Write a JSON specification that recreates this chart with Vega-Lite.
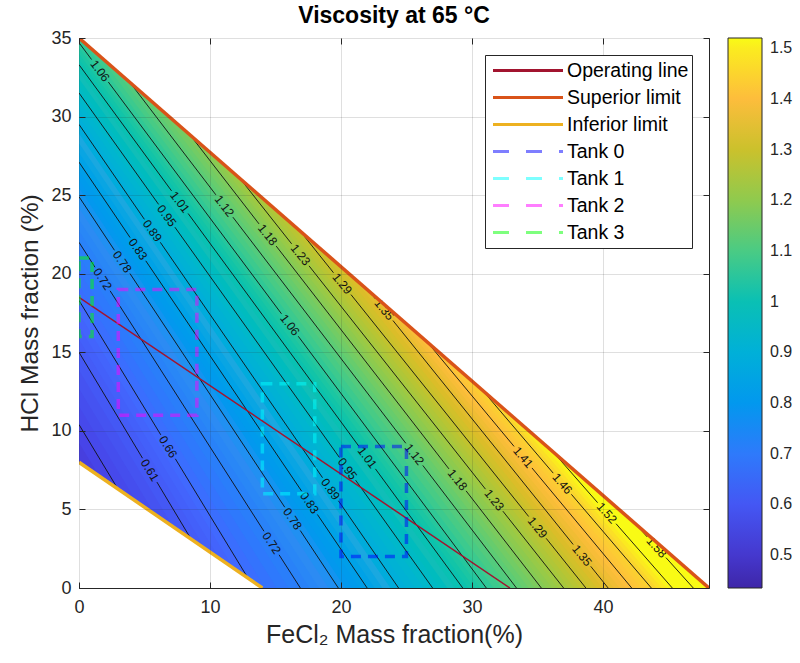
{
"$schema": "https://vega.github.io/schema/vega-lite/v6.json",
"width": 630, "height": 550,
"autosize": {"type": "none"},
"padding": {"left": 79, "top": 38, "right": 91, "bottom": 75},
"background": "white",
"title": {"text": "Viscosity at 65 °C", "font": "Liberation Sans", "fontSize": 23, "fontWeight": "bold", "color": "#000000", "offset": 1},
"config": {
  "font": "Liberation Sans",
  "view": {"stroke": "#262626", "strokeWidth": 1},
  "axis": {"labelFlush": false, "labelOverlap": false, "domain": false, "labelFont": "Liberation Sans", "titleFont": "Liberation Sans", "labelColor": "#262626", "titleColor": "#262626", "titleFontWeight": "normal", "tickColor": "#262626", "tickWidth": 1}
},
"datasets": {
  "bands": [
    {"v":0.47,"x":0,"lo":-100,"hi":5.95},{"v":0.47,"x":48.1,"lo":-100,"hi":-59.85},
    {"v":0.4975,"x":0,"lo":5.8,"hi":7.1},{"v":0.4975,"x":48.1,"lo":-60,"hi":-58.85},
    {"v":0.5125,"x":0,"lo":6.95,"hi":8.25},{"v":0.5125,"x":48.1,"lo":-59,"hi":-57.85},
    {"v":0.5275,"x":0,"lo":8.1,"hi":9.4},{"v":0.5275,"x":48.1,"lo":-58,"hi":-56.85},
    {"v":0.5425,"x":0,"lo":9.25,"hi":10.55},{"v":0.5425,"x":48.1,"lo":-57,"hi":-55.85},
    {"v":0.5575,"x":0,"lo":10.4,"hi":11.7},{"v":0.5575,"x":48.1,"lo":-56,"hi":-54.8},
    {"v":0.5725,"x":0,"lo":11.55,"hi":12.85},{"v":0.5725,"x":48.1,"lo":-54.95,"hi":-53.75},
    {"v":0.5875,"x":0,"lo":12.7,"hi":14.0},{"v":0.5875,"x":48.1,"lo":-53.9,"hi":-52.7},
    {"v":0.6025,"x":0,"lo":13.85,"hi":15.15},{"v":0.6025,"x":48.1,"lo":-52.85,"hi":-51.65},
    {"v":0.6163,"x":0,"lo":15,"hi":15.98},{"v":0.6163,"x":48.1,"lo":-51.8,"hi":-50.6},
    {"v":0.6288,"x":0,"lo":15.83,"hi":16.8},{"v":0.6288,"x":48.1,"lo":-50.75,"hi":-49.55},
    {"v":0.6413,"x":0,"lo":16.65,"hi":17.63},{"v":0.6413,"x":48.1,"lo":-49.7,"hi":-48.5},
    {"v":0.6538,"x":0,"lo":17.48,"hi":18.45},{"v":0.6538,"x":48.1,"lo":-48.65,"hi":-47.45},
    {"v":0.6675,"x":0,"lo":18.3,"hi":19.38},{"v":0.6675,"x":48.1,"lo":-47.6,"hi":-45.7},
    {"v":0.6825,"x":0,"lo":19.23,"hi":20.3},{"v":0.6825,"x":48.1,"lo":-45.85,"hi":-43.95},
    {"v":0.6975,"x":0,"lo":20.15,"hi":21.23},{"v":0.6975,"x":48.1,"lo":-44.1,"hi":-42.2},
    {"v":0.7125,"x":0,"lo":21.08,"hi":22.15},{"v":0.7125,"x":48.1,"lo":-42.35,"hi":-40.45},
    {"v":0.7275,"x":0,"lo":22,"hi":22.88},{"v":0.7275,"x":48.1,"lo":-40.6,"hi":-39.2},
    {"v":0.7425,"x":0,"lo":22.73,"hi":23.6},{"v":0.7425,"x":48.1,"lo":-39.35,"hi":-37.95},
    {"v":0.7575,"x":0,"lo":23.45,"hi":24.33},{"v":0.7575,"x":48.1,"lo":-38.1,"hi":-36.7},
    {"v":0.7725,"x":0,"lo":24.18,"hi":25.05},{"v":0.7725,"x":48.1,"lo":-36.85,"hi":-35.45},
    {"v":0.7863,"x":0,"lo":24.9,"hi":25.6},{"v":0.7863,"x":48.1,"lo":-35.6,"hi":-34.6},
    {"v":0.7988,"x":0,"lo":25.45,"hi":26.15},{"v":0.7988,"x":48.1,"lo":-34.75,"hi":-33.75},
    {"v":0.8113,"x":0,"lo":26,"hi":26.7},{"v":0.8113,"x":48.1,"lo":-33.9,"hi":-32.9},
    {"v":0.8238,"x":0,"lo":26.55,"hi":27.25},{"v":0.8238,"x":48.1,"lo":-33.05,"hi":-32.05},
    {"v":0.8375,"x":0,"lo":27.1,"hi":27.85},{"v":0.8375,"x":48.1,"lo":-32.2,"hi":-31.18},
    {"v":0.8525,"x":0,"lo":27.7,"hi":28.45},{"v":0.8525,"x":48.1,"lo":-31.33,"hi":-30.3},
    {"v":0.8675,"x":0,"lo":28.3,"hi":29.05},{"v":0.8675,"x":48.1,"lo":-30.45,"hi":-29.43},
    {"v":0.8825,"x":0,"lo":28.9,"hi":29.65},{"v":0.8825,"x":48.1,"lo":-29.58,"hi":-28.55},
    {"v":0.8975,"x":0,"lo":29.5,"hi":30.15},{"v":0.8975,"x":48.1,"lo":-28.7,"hi":-27.53},
    {"v":0.9125,"x":0,"lo":30,"hi":30.65},{"v":0.9125,"x":48.1,"lo":-27.68,"hi":-26.5},
    {"v":0.9275,"x":0,"lo":30.5,"hi":31.15},{"v":0.9275,"x":48.1,"lo":-26.65,"hi":-25.48},
    {"v":0.9425,"x":0,"lo":31,"hi":31.65},{"v":0.9425,"x":48.1,"lo":-25.63,"hi":-24.45},
    {"v":0.9575,"x":0,"lo":31.5,"hi":32.1},{"v":0.9575,"x":48.1,"lo":-24.6,"hi":-23.65},
    {"v":0.9725,"x":0,"lo":31.95,"hi":32.55},{"v":0.9725,"x":48.1,"lo":-23.8,"hi":-22.85},
    {"v":0.9875,"x":0,"lo":32.4,"hi":33.0},{"v":0.9875,"x":48.1,"lo":-23,"hi":-22.05},
    {"v":1.0025,"x":0,"lo":32.85,"hi":33.45},{"v":1.0025,"x":48.1,"lo":-22.2,"hi":-21.25},
    {"v":1.0163,"x":0,"lo":33.3,"hi":33.8},{"v":1.0163,"x":48.1,"lo":-21.4,"hi":-20.65},
    {"v":1.0288,"x":0,"lo":33.65,"hi":34.15},{"v":1.0288,"x":48.1,"lo":-20.8,"hi":-20.05},
    {"v":1.0413,"x":0,"lo":34,"hi":34.5},{"v":1.0413,"x":48.1,"lo":-20.2,"hi":-19.45},
    {"v":1.0538,"x":0,"lo":34.35,"hi":34.85},{"v":1.0538,"x":48.1,"lo":-19.6,"hi":-18.85},
    {"v":1.0675,"x":0,"lo":34.7,"hi":35.28},{"v":1.0675,"x":48.1,"lo":-19,"hi":-18.1},
    {"v":1.0825,"x":0,"lo":35.13,"hi":35.71},{"v":1.0825,"x":48.1,"lo":-18.25,"hi":-17.35},
    {"v":1.0975,"x":0,"lo":35.56,"hi":36.13},{"v":1.0975,"x":48.1,"lo":-17.5,"hi":-16.6},
    {"v":1.1125,"x":0,"lo":35.98,"hi":36.56},{"v":1.1125,"x":48.1,"lo":-16.75,"hi":-15.85},
    {"v":1.1275,"x":0,"lo":36.41,"hi":36.95},{"v":1.1275,"x":48.1,"lo":-16,"hi":-15.3},
    {"v":1.1425,"x":0,"lo":36.8,"hi":37.33},{"v":1.1425,"x":48.1,"lo":-15.45,"hi":-14.75},
    {"v":1.1575,"x":0,"lo":37.18,"hi":37.72},{"v":1.1575,"x":48.1,"lo":-14.9,"hi":-14.2},
    {"v":1.1725,"x":0,"lo":37.57,"hi":38.1},{"v":1.1725,"x":48.1,"lo":-14.35,"hi":-13.65},
    {"v":1.1863,"x":0,"lo":37.95,"hi":38.37},{"v":1.1863,"x":48.1,"lo":-13.8,"hi":-13.13},
    {"v":1.1988,"x":0,"lo":38.22,"hi":38.64},{"v":1.1988,"x":48.1,"lo":-13.28,"hi":-12.6},
    {"v":1.2113,"x":0,"lo":38.49,"hi":38.9},{"v":1.2113,"x":48.1,"lo":-12.75,"hi":-12.08},
    {"v":1.2238,"x":0,"lo":38.75,"hi":39.17},{"v":1.2238,"x":48.1,"lo":-12.23,"hi":-11.55},
    {"v":1.2375,"x":0,"lo":39.02,"hi":39.49},{"v":1.2375,"x":48.1,"lo":-11.7,"hi":-11.07},
    {"v":1.2525,"x":0,"lo":39.34,"hi":39.81},{"v":1.2525,"x":48.1,"lo":-11.22,"hi":-10.6},
    {"v":1.2675,"x":0,"lo":39.66,"hi":40.13},{"v":1.2675,"x":48.1,"lo":-10.75,"hi":-10.12},
    {"v":1.2825,"x":0,"lo":39.98,"hi":40.45},{"v":1.2825,"x":48.1,"lo":-10.27,"hi":-9.64},
    {"v":1.2975,"x":0,"lo":40.3,"hi":40.84},{"v":1.2975,"x":48.1,"lo":-9.79,"hi":-9.19},
    {"v":1.3125,"x":0,"lo":40.69,"hi":41.23},{"v":1.3125,"x":48.1,"lo":-9.34,"hi":-8.74},
    {"v":1.3275,"x":0,"lo":41.08,"hi":41.61},{"v":1.3275,"x":48.1,"lo":-8.89,"hi":-8.28},
    {"v":1.3425,"x":0,"lo":41.46,"hi":42.0},{"v":1.3425,"x":48.1,"lo":-8.43,"hi":-7.83},
    {"v":1.3575,"x":0,"lo":41.85,"hi":42.12},{"v":1.3575,"x":48.1,"lo":-7.98,"hi":-7.32},
    {"v":1.3725,"x":0,"lo":41.97,"hi":42.23},{"v":1.3725,"x":48.1,"lo":-7.47,"hi":-6.8},
    {"v":1.3875,"x":0,"lo":42.08,"hi":42.35},{"v":1.3875,"x":48.1,"lo":-6.95,"hi":-6.29},
    {"v":1.4025,"x":0,"lo":42.2,"hi":42.46},{"v":1.4025,"x":48.1,"lo":-6.44,"hi":-5.77},
    {"v":1.4163,"x":0,"lo":42.31,"hi":42.55},{"v":1.4163,"x":48.1,"lo":-5.92,"hi":-5.36},
    {"v":1.4288,"x":0,"lo":42.4,"hi":42.63},{"v":1.4288,"x":48.1,"lo":-5.51,"hi":-4.96},
    {"v":1.4413,"x":0,"lo":42.48,"hi":42.72},{"v":1.4413,"x":48.1,"lo":-5.11,"hi":-4.55},
    {"v":1.4538,"x":0,"lo":42.57,"hi":42.8},{"v":1.4538,"x":48.1,"lo":-4.7,"hi":-4.14},
    {"v":1.4675,"x":0,"lo":42.65,"hi":42.92},{"v":1.4675,"x":48.1,"lo":-4.29,"hi":-3.74},
    {"v":1.4825,"x":0,"lo":42.77,"hi":43.03},{"v":1.4825,"x":48.1,"lo":-3.89,"hi":-3.33},
    {"v":1.4975,"x":0,"lo":42.88,"hi":43.15},{"v":1.4975,"x":48.1,"lo":-3.48,"hi":-2.93},
    {"v":1.5125,"x":0,"lo":43,"hi":43.26},{"v":1.5125,"x":48.1,"lo":-3.08,"hi":-2.52},
    {"v":1.5275,"x":0,"lo":43.11,"hi":43.38},{"v":1.5275,"x":48.1,"lo":-2.67,"hi":-2.13},
    {"v":1.5425,"x":0,"lo":43.23,"hi":43.51},{"v":1.5425,"x":48.1,"lo":-2.28,"hi":-1.74},
    {"v":1.5575,"x":0,"lo":43.36,"hi":43.63},{"v":1.5575,"x":48.1,"lo":-1.89,"hi":-1.34},
    {"v":1.5725,"x":0,"lo":43.48,"hi":43.75},{"v":1.5725,"x":48.1,"lo":-1.49,"hi":-0.95},
    {"v":1.6,"x":0,"lo":43.6,"hi":44.15},{"v":1.6,"x":48.1,"lo":-1.1,"hi":0.42},
    {"v":1.66,"x":0,"lo":44,"hi":80},{"v":1.66,"x":48.1,"lo":0.27,"hi":80}
  ],
  "contours": [
    {"lv":0.55,"x":0,"y":10.4,"x2":2.97,"y2":6.3},
    {"lv":0.61,"x":0,"y":15,"x2":4.85,"y2":8.26},{"lv":0.61,"x":5.95,"y":6.74,"x2":8.55,"y2":3.12},
    {"lv":0.66,"x":0,"y":18.3,"x2":6.244,"y2":9.746},{"lv":0.66,"x":7.356,"y":8.222,"x2":12.9,"y2":0.63},
    {"lv":0.72,"x":0,"y":22,"x2":1.224,"y2":20.41},{"lv":0.72,"x":2.376,"y":18.91,"x2":14.124,"y2":3.61},{"lv":0.72,"x":15.276,"y":2.11,"x2":16.9,"y2":0},
    {"lv":0.78,"x":0,"y":24.9,"x2":2.71,"y2":21.49},{"lv":0.78,"x":3.89,"y":20.01,"x2":15.71,"y2":5.14},{"lv":0.78,"x":16.89,"y":3.66,"x2":19.8,"y2":0},
    {"lv":0.83,"x":0,"y":27.1,"x2":3.901,"y2":22.3},{"lv":0.83,"x":5.099,"y":20.82,"x2":17.001,"y2":6.16},{"lv":0.83,"x":18.199,"y":4.68,"x2":22,"y2":0},
    {"lv":0.89,"x":0,"y":29.5,"x2":4.993,"y2":23.46},{"lv":0.89,"x":6.207,"y":22.0,"x2":18.593,"y2":7.02},{"lv":0.89,"x":19.807,"y":5.55,"x2":24.4,"y2":0},
    {"lv":0.95,"x":0,"y":31.5,"x2":6.079,"y2":24.41},{"lv":0.95,"x":7.321,"y":22.96,"x2":19.879,"y2":8.31},{"lv":0.95,"x":21.121,"y":6.86,"x2":27,"y2":0},
    {"lv":1.01,"x":0,"y":33.3,"x2":7.068,"y2":25.27},{"lv":1.01,"x":8.332,"y":23.83,"x2":21.368,"y2":9.02},{"lv":1.01,"x":22.632,"y":7.58,"x2":29.3,"y2":0},
    {"lv":1.06,"x":0,"y":34.7,"x2":0.96,"y2":33.63},{"lv":1.06,"x":2.24,"y":32.2,"x2":15.46,"y2":17.45},{"lv":1.06,"x":16.74,"y":16.02,"x2":31.1,"y2":0},
    {"lv":1.12,"x":3.9,"y":32.16,"x2":10.451,"y2":25.02},{"lv":1.12,"x":11.749,"y":23.6,"x2":24.951,"y2":9.21},{"lv":1.12,"x":26.249,"y":7.8,"x2":33.4,"y2":0},
    {"lv":1.18,"x":8.5,"y":28.81,"x2":13.745,"y2":23.17},{"lv":1.18,"x":15.055,"y":21.76,"x2":28.245,"y2":7.58},{"lv":1.18,"x":29.555,"y":6.18,"x2":35.3,"y2":0},
    {"lv":1.23,"x":12.3,"y":26.05,"x2":16.237,"y2":21.9},{"lv":1.23,"x":17.563,"y":20.5,"x2":31.037,"y2":6.29},{"lv":1.23,"x":32.363,"y":4.89,"x2":37,"y2":0},
    {"lv":1.29,"x":16.9,"y":22.7,"x2":19.432,"y2":20.06},{"lv":1.29,"x":20.768,"y":18.67,"x2":34.332,"y2":4.55},{"lv":1.29,"x":35.668,"y":3.16,"x2":38.7,"y2":0},
    {"lv":1.35,"x":22.2,"y":18.85,"x2":22.63,"y2":18.4},{"lv":1.35,"x":23.97,"y":17.02,"x2":37.73,"y2":2.77},{"lv":1.35,"x":39.07,"y":1.38,"x2":40.4,"y2":0},
    {"lv":1.41,"x":26.6,"y":15.64,"x2":33.217,"y2":9.01},{"lv":1.41,"x":34.583,"y":7.64,"x2":42.2,"y2":0},
    {"lv":1.46,"x":30.8,"y":12.59,"x2":36.206,"y2":7.31},{"lv":1.46,"x":37.594,"y":5.96,"x2":43.7,"y2":0},
    {"lv":1.52,"x":36.2,"y":8.66,"x2":39.596,"y2":5.43},{"lv":1.52,"x":41.004,"y":4.09,"x2":45.3,"y2":0},
    {"lv":1.58,"x":42.5,"y":4.07,"x2":43.385,"y2":3.25},{"lv":1.58,"x":44.815,"y":1.93,"x2":46.9,"y2":0}
  ],
  "clabels": [
    {"t":"0.61","x":5.4,"y":7.5,"s":-1.389},
    {"t":"0.66","x":6.8,"y":8.98,"s":-1.37},
    {"t":"0.72","x":1.8,"y":19.66,"s":-1.302},{"t":"0.72","x":14.7,"y":2.86,"s":-1.302},
    {"t":"0.78","x":3.3,"y":20.75,"s":-1.258},{"t":"0.78","x":16.3,"y":4.4,"s":-1.258},
    {"t":"0.83","x":4.5,"y":21.56,"s":-1.232},{"t":"0.83","x":17.6,"y":5.42,"s":-1.232},
    {"t":"0.89","x":5.6,"y":22.73,"s":-1.209},{"t":"0.89","x":19.2,"y":6.29,"s":-1.209},
    {"t":"0.95","x":6.7,"y":23.68,"s":-1.167},{"t":"0.95","x":20.5,"y":7.58,"s":-1.167},
    {"t":"1.01","x":7.7,"y":24.55,"s":-1.137},{"t":"1.01","x":22.0,"y":8.3,"s":-1.137},
    {"t":"1.06","x":1.6,"y":32.91,"s":-1.116},{"t":"1.06","x":16.1,"y":16.74,"s":-1.116},
    {"t":"1.12","x":11.1,"y":24.31,"s":-1.09},{"t":"1.12","x":25.6,"y":8.5,"s":-1.09},
    {"t":"1.18","x":14.4,"y":22.47,"s":-1.075},{"t":"1.18","x":28.9,"y":6.88,"s":-1.075},
    {"t":"1.23","x":16.9,"y":21.2,"s":-1.055},{"t":"1.23","x":31.7,"y":5.59,"s":-1.055},
    {"t":"1.29","x":20.1,"y":19.37,"s":-1.041},{"t":"1.29","x":35.0,"y":3.85,"s":-1.041},
    {"t":"1.35","x":23.3,"y":17.71,"s":-1.036},{"t":"1.35","x":38.4,"y":2.07,"s":-1.036},
    {"t":"1.41","x":33.9,"y":8.32,"s":-1.003},
    {"t":"1.46","x":36.9,"y":6.64,"s":-0.976},
    {"t":"1.52","x":40.3,"y":4.76,"s":-0.952},
    {"t":"1.58","x":44.1,"y":2.59,"s":-0.925}
  ],
  "lines": [
    {"series":"Operating line","x":0,"y":18.5},{"series":"Operating line","x":32.9,"y":0},
    {"series":"Superior limit","x":0,"y":35},{"series":"Superior limit","x":48.1,"y":0},
    {"series":"Inferior limit","x":0,"y":8},{"series":"Inferior limit","x":14,"y":0}
  ],
  "tanks": [
    {"series":"Tank 0","x":20,"x2":25,"y":2,"y2":9},
    {"series":"Tank 1","x":14,"x2":18,"y":6,"y2":13},
    {"series":"Tank 2","x":3,"x2":9,"y":11,"y2":19},
    {"series":"Tank 3","x":0,"x2":1,"y":16,"y2":21}
  ]
},
"layer": [
  {
    "data": {"name": "bands"},
    "mark": {"type": "area", "clip": true},
    "encoding": {
      "x": {"field": "x", "type": "quantitative", "scale": {"domain": [0, 48.1], "nice": false, "zero": false},
            "axis": {"orient": "bottom", "values": [0,10,20,30,40], "title": "FeCl₂ Mass fraction(%)", "grid": true, "gridColor": "#262626", "gridOpacity": 0.15, "tickSize": -6, "labelPadding": 16, "labelFontSize": 18, "titleFontSize": 25, "titlePadding": 6, "zindex": 1}},
      "y": {"field": "lo", "type": "quantitative", "stack": null, "scale": {"domain": [0, 35], "nice": false, "zero": false},
            "axis": {"orient": "left", "values": [0,5,10,15,20,25,30,35], "title": "HCl Mass fraction (%)", "grid": true, "gridColor": "#262626", "gridOpacity": 0.15, "tickSize": -6, "labelPadding": 14, "labelFontSize": 18, "titleFontSize": 24.5, "titlePadding": 8, "zindex": 1}},
      "y2": {"field": "hi"},
      "detail": {"field": "v", "type": "quantitative"},
      "fill": {"field": "v", "type": "quantitative",
               "scale": {"domain": [0.435,0.54,0.65,0.76,0.87,0.985,1.1,1.22,1.33,1.4,1.47,1.52],
                         "range": ["#3e26a8","#4743e7","#4367fe","#2d8cf3","#1ca9df","#12beb9","#4acb84","#9dc943","#dcbd29","#fdbd3c","#fad62d","#f9fb15"],
                         "clamp": true},
               "legend": {"title": null, "orient": "right", "offset": 18, "direction": "vertical", "gradientLength": 550, "gradientThickness": 34, "values": [0.5,0.6,0.7,0.8,0.9,1,1.1,1.2,1.3,1.4,1.5], "format": ".1~f", "labelFontSize": 16, "labelFont": "Liberation Sans", "labelColor": "#262626", "labelOffset": 8, "labelOverlap": false, "gradientStrokeColor": "#262626", "gradientStrokeWidth": 1, "padding": 0}}
    }
  },
  {
    "data": {"name": "lines"},
    "transform": [{"filter": "datum.series == 'Superior limit'"}],
    "mark": {"type": "area", "color": "white", "clip": true},
    "encoding": {
      "x": {"field": "x", "type": "quantitative", "axis": {"orient": "top", "values": [0,10,20,30,40], "labels": false, "grid": false, "title": null, "tickSize": -6, "zindex": 1}},
      "y": {"field": "y", "type": "quantitative", "stack": null, "axis": {"orient": "right", "values": [0,5,10,15,20,25,30,35], "labels": false, "grid": false, "title": null, "tickSize": -6, "zindex": 1}},
      "y2": {"datum": 35}
    }
  },
  {
    "data": {"name": "lines"},
    "transform": [{"filter": "datum.series == 'Inferior limit'"}],
    "mark": {"type": "area", "color": "white", "clip": true},
    "encoding": {
      "x": {"field": "x", "type": "quantitative", "axis": null},
      "y": {"field": "y", "type": "quantitative", "stack": null, "axis": null},
      "y2": {"datum": 0}
    }
  },
  {
    "data": {"name": "contours"},
    "mark": {"type": "rule", "color": "#111111", "strokeWidth": 0.9, "clip": true},
    "encoding": {
      "x": {"field": "x", "type": "quantitative", "axis": null},
      "y": {"field": "y", "type": "quantitative", "axis": null},
      "x2": {"field": "x2"},
      "y2": {"field": "y2"}
    }
  },
  {
    "data": {"name": "clabels"},
    "mark": {"type": "text", "fontSize": 12, "font": "Liberation Sans", "color": "#111111", "align": "center", "baseline": "middle"},
    "encoding": {
      "x": {"field": "x", "type": "quantitative", "axis": null},
      "y": {"field": "y", "type": "quantitative", "axis": null},
      "text": {"field": "t", "type": "nominal"},
      "angle": {"field": "s", "type": "quantitative", "scale": {"domain": [-1.4, -0.9], "range": [59.2, 47.2]}, "legend": null}
    }
  },
  {
    "data": {"name": "lines"},
    "mark": {"type": "line", "clip": true},
    "encoding": {
      "x": {"field": "x", "type": "quantitative", "axis": null},
      "y": {"field": "y", "type": "quantitative", "axis": null},
      "stroke": {"field": "series", "type": "nominal",
                 "scale": {"domain": ["Operating line","Superior limit","Inferior limit","Tank 0","Tank 1","Tank 2","Tank 3"],
                           "range": ["#a2142f","#d95319","#edb120","#0000ff","#00ffff","#ff00ff","#00ff00"]},
                 "legend": {"title": null, "orient": "top-right", "offset": 17, "zindex": 2, "fillColor": "white", "strokeColor": "#262626", "padding": 3, "symbolOffset": 3, "symbolType": "stroke", "symbolSize": 4900, "symbolStrokeWidth": 3.2, "clipHeight": 25, "rowPadding": 2, "labelOffset": 2, "labelFontSize": 19.5, "labelFont": "Liberation Sans", "labelColor": "#000000", "labelLimit": 300,
                   "encode": {"symbols": {"update": {
                     "strokeDash": {"signal": "slice(datum.value, 0, 4) === 'Tank' ? [16, 17] : [1, 0]"},
                     "opacity": {"signal": "slice(datum.value, 0, 4) === 'Tank' ? 0.5 : 1"}
                   }}}}},
      "strokeWidth": {"condition": {"test": "datum.series === 'Operating line'", "value": 1.5}, "value": 3.5}
    }
  },
  {
    "data": {"name": "tanks"},
    "mark": {"type": "rect", "filled": false, "clip": true, "strokeWidth": 3.5, "strokeDash": [10, 7], "opacity": 0.5},
    "encoding": {
      "x": {"field": "x", "type": "quantitative", "axis": null},
      "x2": {"field": "x2"},
      "y": {"field": "y", "type": "quantitative", "axis": null},
      "y2": {"field": "y2"},
      "stroke": {"field": "series", "type": "nominal"}
    }
  }
],
"resolve": {"axis": {"x": "independent", "y": "independent"}}
}
